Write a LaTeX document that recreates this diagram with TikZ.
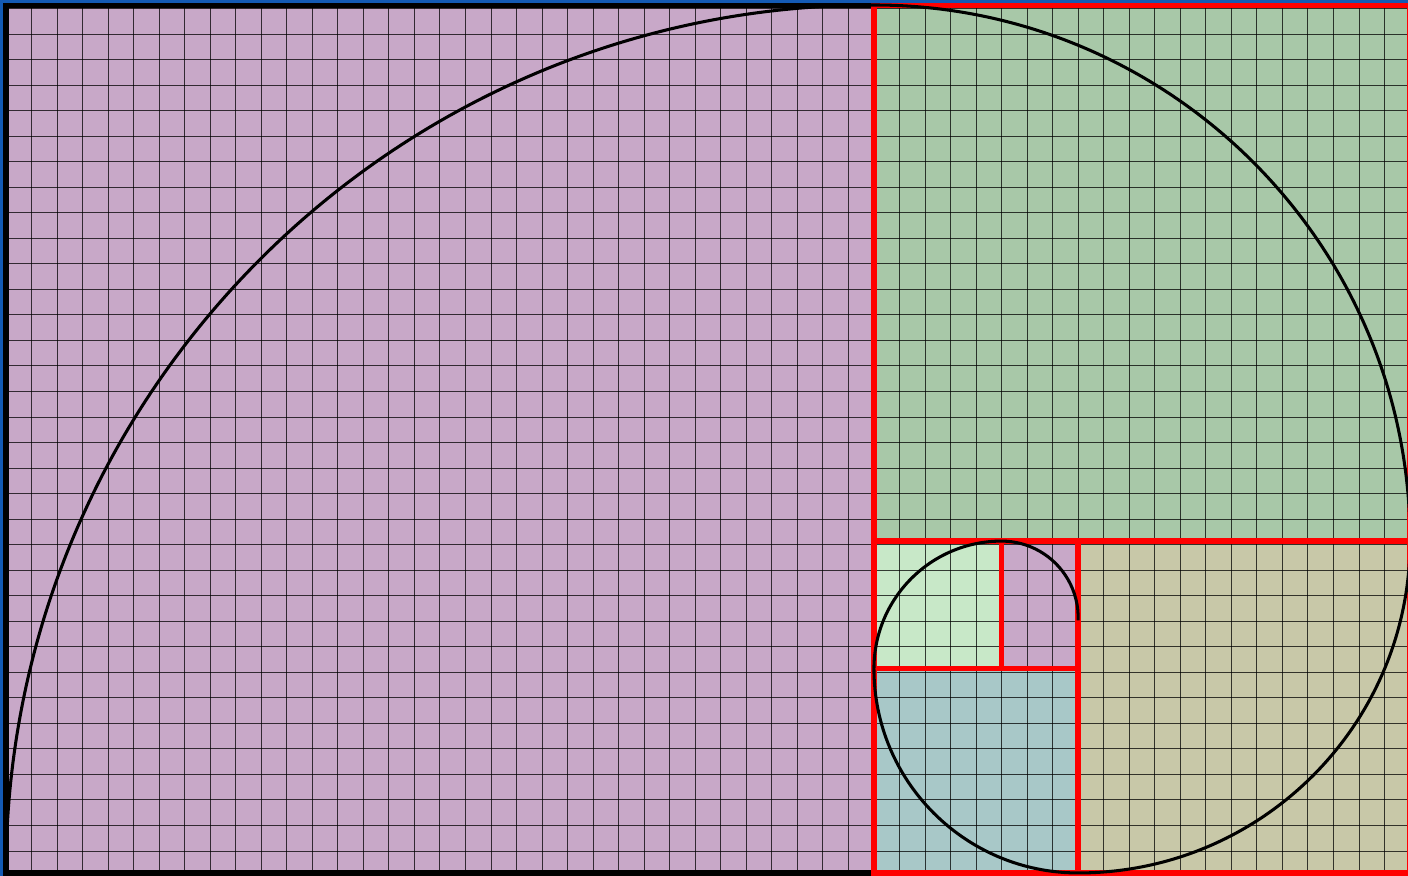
\documentclass[tikz,border=0pt]{standalone}
\definecolor{cpurple}{RGB}{200,168,200}
\definecolor{cgreen}{RGB}{168,200,168}
\definecolor{clight}{RGB}{200,232,200}
\definecolor{cblue}{RGB}{168,200,200}
\definecolor{colive}{RGB}{200,200,168}
\definecolor{cframe}{RGB}{20,90,180}
\tikzset{
  gridline/.style={draw=black,line width=1.1pt,opacity=0.75},
  redbox/.style={draw=red,line width=6pt},
  blackbox/.style={draw=black,line width=6pt},
  framebar/.style={draw=cframe,line width=6.6pt},
  spiral/.style={draw=black,line width=3.4pt}
}
\begin{document}
\begin{tikzpicture}
\useasboundingbox (-0.235,-0.118) rectangle (54.92,34.196);
% coordinates
\coordinate (O) at (0,0);
% fills
\fill[cpurple] (-0.5,-0.5) rectangle (34,34.5);
\fill[cgreen] (34,13) rectangle (56,34.5);
\fill[clight] (34,8) rectangle (39,13);
\fill[cpurple] (39,8) rectangle (42,13);
\fill[cblue] (34,-0.5) rectangle (42,8);
\fill[colive] (42,-0.5) rectangle (56,13);
% grid
\foreach \i in {0,...,55} \draw[gridline] (\i,-0.3) -- (\i,34.4);
\foreach \j in {0,...,35} \draw[gridline] (-0.4,\j-0.14) -- (55.2,\j-0.14);
% square borders
\draw[blackbox] (0,0) rectangle (34,34);
\draw[redbox] (34,13) rectangle (55,34);
\draw[redbox] (34,8) rectangle (39,13);
\draw[redbox] (39,8) rectangle (42,13);
\draw[redbox] (34,0) rectangle (42,8);
\draw[redbox] (42,0) rectangle (55,13);
% outer frame
\draw[framebar] (-0.235,-1) -- (-0.235,34.196) -- (56,34.196);
% spiral
\draw[spiral] (O) arc[start angle=180,end angle=90,radius=34]
  arc[start angle=90,end angle=0,radius=21]
  arc[start angle=0,end angle=-90,radius=13]
  arc[start angle=-90,end angle=-180,radius=8]
  arc[start angle=180,end angle=90,radius=5]
  arc[start angle=90,end angle=-2,radius=3];
\end{tikzpicture}
\end{document}
